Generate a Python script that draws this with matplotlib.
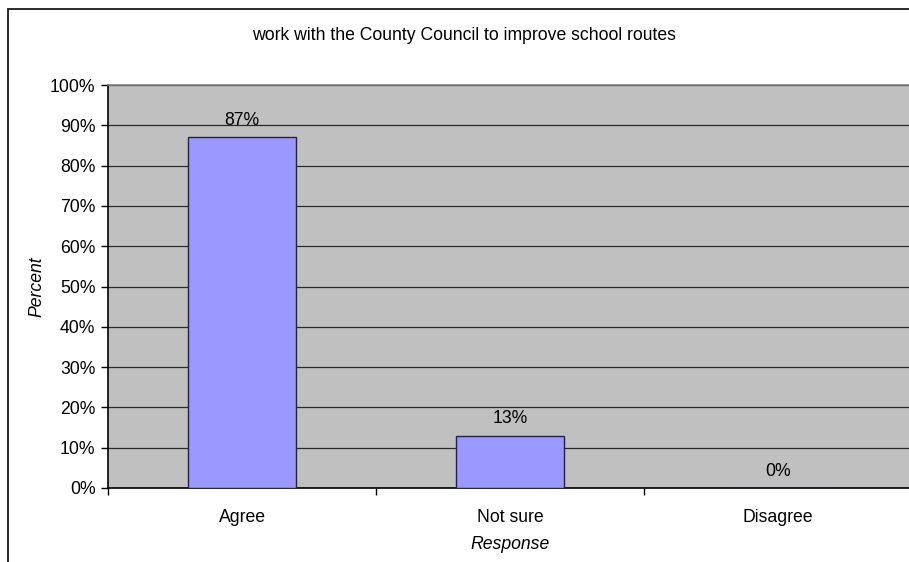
import numpy as np
import matplotlib
matplotlib.use("Agg")
import matplotlib.pyplot as plt
from matplotlib.patches import Rectangle
from matplotlib.ticker import FixedLocator

plt.rcParams['font.family'] = ['Liberation Sans', 'DejaVu Sans']

# data
categories = ['Agree', 'Not sure', 'Disagree']
percent = [87, 13, 0]
title = 'work with the County Council to improve school routes'

fs = 12.7
fig = plt.figure(figsize=(9.09, 5.62), dpi=100)

# outer chart border (only left and top are visible in the picture)
fig.patches.append(Rectangle((8 / 909, -0.1), 1.2, 1.1 - 9 / 562,
                             transform=fig.transFigure, fill=False,
                             edgecolor='#1a1a1a', linewidth=1.3))

ax = fig.add_axes([108 / 909, 1 - 488 / 562, 804 / 909, 403 / 562])
ax.set_facecolor('#C0C0C0')

x = np.arange(len(categories))
ax.bar(x, percent, width=0.4, color='#9999FF', edgecolor='#222244',
       linewidth=1.0, zorder=3)

for xi, v in zip(x, percent):
    ax.annotate(f'{v}%', (xi, v), xytext=(0, 12), textcoords='offset points',
                ha='center', va='center', fontsize=fs, color='black')

ax.set_xlim(-0.5, 2.5)
ax.set_ylim(0, 100)
ax.set_yticks(np.arange(0, 101, 10))
ax.set_yticklabels([f'{t}%' for t in range(0, 101, 10)], fontsize=fs)
ax.yaxis.grid(True, color='#2a2a2a', linewidth=0.9, zorder=1)
ax.set_axisbelow(True)

ax.set_xticks(x)
ax.set_xticklabels(categories, fontsize=fs)
ax.tick_params(axis='x', which='major', length=0, pad=15)
ax.xaxis.set_minor_locator(FixedLocator([-0.5, 0.5, 1.5, 2.5]))
ax.tick_params(axis='x', which='minor', length=5, width=1, color='black', direction='out')
ax.tick_params(axis='y', length=5, width=1, color='black', direction='out', pad=4)

for side in ['left', 'bottom']:
    ax.spines[side].set_color('black')
    ax.spines[side].set_linewidth(1.2)
ax.spines['top'].set_color('#808080')
ax.spines['top'].set_linewidth(1.2)
ax.spines['right'].set_visible(False)

ax.set_ylabel('Percent', fontsize=fs, style='italic', labelpad=3)
ax.set_xlabel('Response', fontsize=fs, style='italic', labelpad=7)

fig.text(464 / 909, 1 - 36 / 562, title, ha='center', va='center', fontsize=fs)

fig.savefig('out.png', dpi=100)
